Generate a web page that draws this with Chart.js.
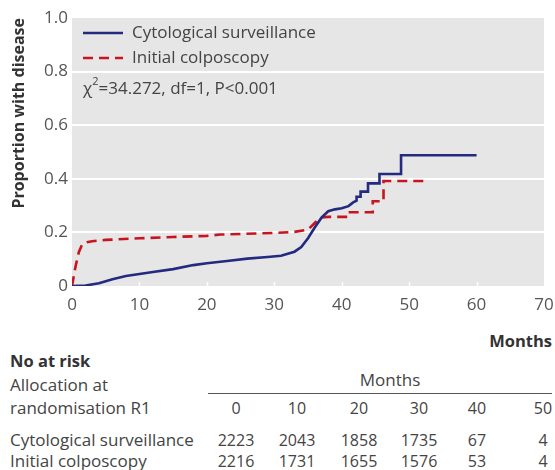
<!DOCTYPE html>
<html>
<head>
<meta charset="utf-8">
<script src="https://cdn.jsdelivr.net/npm/chart.js@4"></script>
<style>
  body{margin:0;background:#fff;font-family:"Open Sans",sans-serif;color:#444;}
  #wrap{position:relative;width:555px;height:470px;}
  #chartBox{position:absolute;left:0;top:0;width:555px;height:320px;}
  .t{position:absolute;font-size:17px;white-space:nowrap;line-height:1;}
  .n{font-size:16px;}
  .b{font-weight:bold;color:#333;font-size:16.5px;}
  .c{transform:translateX(-50%);}
  .r{transform:translateX(-100%);}
  #rule{position:absolute;left:208px;top:393px;width:344px;height:1px;background:#555;}
</style>
</head>
<body>
<div id="wrap">
  <div id="chartBox"><canvas id="km"></canvas></div>
  <div class="t b r" style="left:552px;top:333px">Months</div>
  <div class="t b" style="left:10px;top:353px">No at risk</div>
  <div class="t" style="left:10px;top:376px">Allocation at</div>
  <div class="t" style="left:10px;top:399px">randomisation R1</div>
  <div class="t c" style="left:390px;top:371px">Months</div>
  <div id="rule"></div>
  <div id="riskTable"></div>
</div>
<script>
/* ===== data ===== */
const cytoMonths = [0,2,4,6,8,10,12,15,18,20,23,26,29,31,33,34,35,36,37,38,39,40,41,41.7,
  42.2,42.2,42.8,42.8,43.9,43.9,45.6,45.6,48.8,48.8,60];
const cytoProp = [0,0.002,0.01,0.025,0.037,0.045,0.052,0.063,0.078,0.085,0.093,0.102,0.108,0.113,0.128,0.145,0.178,0.218,0.255,0.279,0.286,0.29,0.298,0.312,
  0.318,0.333,0.333,0.352,0.352,0.383,0.383,0.418,0.418,0.488,0.488];

const colpoMonths = [0,0.5,1,1.5,2.2,3,5,10,15,20,22,25,30,33,35,36,36.8,38,41,41,44.6,44.6,46.2,46.2,52.6];
const colpoProp = [0,0.07,0.125,0.155,0.163,0.167,0.172,0.178,0.183,0.187,0.192,0.194,0.198,0.202,0.21,0.235,0.255,0.258,0.258,0.275,0.275,0.316,0.316,0.392,0.392];

const yTicks = [0,0.2,0.4,0.6,0.8,1.0];
const xTicks = [0,10,20,30,40,50,60,70];

const riskMonths = [0,10,20,30,40,50];
const riskCyto  = [2223,2043,1858,1735,67,4];
const riskColpo = [2216,1731,1655,1576,53,4];
const riskCols  = [236,297,359,419,477,543];

const BLUE='#232a7f', RED='#c8141f', GREY='#555';

/* ===== risk table ===== */
(function(){
  const box=document.getElementById('riskTable');
  const add=(txt,x,y,cls)=>{const d=document.createElement('div');d.className='t '+(cls||'');d.style.left=x+'px';d.style.top=y+'px';d.textContent=txt;box.appendChild(d);};
  riskMonths.forEach((m,i)=>add(m,riskCols[i],400,'c n'));
  add('Cytological surveillance',10,431);
  add('Initial colposcopy',10,452);
  riskCyto.forEach((v,i)=>add(v,riskCols[i],432,'c n'));
  riskColpo.forEach((v,i)=>add(v,riskCols[i],453,'c n'));
})();

/* ===== chart ===== */
const toXY=(xs,ys)=>xs.map((x,i)=>({x:x,y:ys[i]}));

const panelPlugin={
  id:'panel',
  beforeDraw(chart){
    const {ctx,chartArea:a}=chart;
    ctx.save();ctx.fillStyle='#e6e6e6';
    ctx.fillRect(a.left,a.top,a.right-a.left,a.bottom-a.top);
    ctx.restore();
  },
  beforeDatasetsDraw(chart){
    const {ctx,chartArea:a,scales}=chart;
    ctx.save();ctx.strokeStyle='#fff';ctx.lineWidth=1.5;
    xTicks.slice(1,-1).forEach(v=>{
      const px=Math.round(scales.x.getPixelForValue(v))+0.5;
      ctx.beginPath();ctx.moveTo(px,a.bottom);ctx.lineTo(px,a.bottom-4);ctx.stroke();
    });
    ctx.restore();
  },
  afterDraw(chart){
    const {ctx,chartArea:a}=chart;
    ctx.save();
    ctx.font='17px "Open Sans"';ctx.fillStyle='#444';ctx.textBaseline='middle';
    ctx.lineWidth=2.5;
    ctx.strokeStyle=BLUE;ctx.setLineDash([]);
    ctx.beginPath();ctx.moveTo(a.left+11,33);ctx.lineTo(a.left+51,33);ctx.stroke();
    ctx.fillText('Cytological surveillance',a.left+60,33);
    ctx.strokeStyle=RED;ctx.setLineDash([10,6]);
    ctx.beginPath();ctx.moveTo(a.left+11,58);ctx.lineTo(a.left+51,58);ctx.stroke();
    ctx.fillText('Initial colposcopy',a.left+60,58);
    let x=a.left+11;const y=89;
    ctx.fillText('χ',x,y);x+=ctx.measureText('χ').width;
    ctx.font='11px "Open Sans"';ctx.fillText('2',x,y-7);x+=ctx.measureText('2').width;
    ctx.font='17px "Open Sans"';ctx.fillText('=34.272, df=1, P<0.001',x,y);
    ctx.restore();
  }
};

new Chart(document.getElementById('km'),{
  type:'line',
  data:{datasets:[
    {label:'Cytological surveillance',data:toXY(cytoMonths,cytoProp),borderColor:BLUE,borderWidth:2.6,pointRadius:0,tension:0},
    {label:'Initial colposcopy',data:toXY(colpoMonths,colpoProp),borderColor:RED,borderWidth:2.6,borderDash:[10,6],pointRadius:0,tension:0}
  ]},
  options:{
    responsive:true,maintainAspectRatio:false,animation:false,
    layout:{padding:{top:18,right:11,left:0,bottom:0}},
    plugins:{legend:{display:false},tooltip:{enabled:false}},
    scales:{
      x:{type:'linear',min:0,max:70,
        afterBuildTicks:s=>{s.ticks=xTicks.map(v=>({value:v}));},
        afterFit:s=>{s.height=34;},
        ticks:{color:GREY,font:{family:'Open Sans',size:17},padding:1,maxRotation:0},
        grid:{display:false},border:{display:false}},
      y:{min:0,max:1,
        afterBuildTicks:s=>{s.ticks=yTicks.map(v=>({value:v}));},
        afterFit:s=>{s.width=72;},
        ticks:{color:GREY,font:{family:'Open Sans',size:17},padding:4,
          callback:v=>v===0?'0':v.toFixed(1)},
        grid:{color:c=>(c.tick&&c.tick.value>0&&c.tick.value<1)?'#fff':'rgba(0,0,0,0)',lineWidth:2,drawTicks:false},
        border:{display:false},
        title:{display:true,text:'Proportion with disease',align:'end',color:'#333',
          font:{family:'Open Sans',size:16,weight:'bold'},padding:{top:10,bottom:0}}}
    }
  },
  plugins:[panelPlugin]
});
</script>
</body>
</html>
